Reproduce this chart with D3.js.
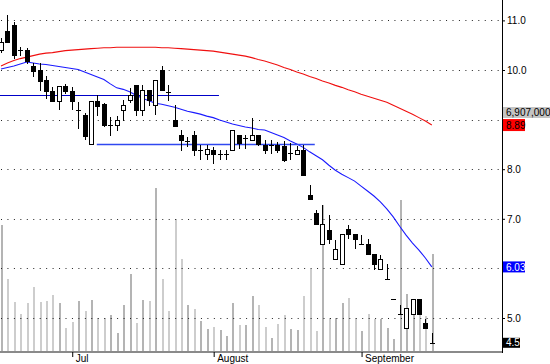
<!DOCTYPE html>
<html>
<head>
<meta charset="utf-8">
<script src="https://cdn.jsdelivr.net/npm/d3@7"></script>
<style>
body { margin: 0; background: #fff; }
svg { display: block; font-family: Arial, "Liberation Sans", sans-serif; }
</style>
</head>
<body>
<svg id="chart" width="550" height="364"></svg>
<script>
// daily prices, one entry per trading day (late June -> mid September)
var opens = [10.40,10.79,10.91,10.40,10.40,10.08,10.00,9.80,9.58,9.38,
  9.68,9.58,9.19,9.09,8.51,9.38,9.31,8.89,8.89,9.19,
  9.40,9.70,9.19,9.60,9.29,10.00,9.56,8.99,8.69,8.57,
  8.69,8.39,8.31,8.39,8.31,8.31,8.39,8.69,8.63,8.59,
  8.69,8.49,8.49,8.49,8.47,8.33,8.31,8.39,7.48,7.12,
  6.49,6.77,6.19,6.09,6.79,6.69,6.49,6.49,6.29,5.99,
  5.79,5.38,5.08,4.80,5.08,5.38,4.90,4.50]
var highs = [10.65,11.11,10.97,10.46,10.44,10.14,10.14,9.88,9.66,9.68,
  9.72,9.66,9.35,9.13,9.38,9.50,9.33,9.05,9.07,9.40,
  9.64,9.70,9.70,9.60,9.80,10.08,9.70,9.29,8.79,8.65,
  8.77,8.49,8.49,8.45,8.39,8.39,8.79,8.69,8.69,9.03,
  8.69,8.59,8.59,8.55,8.57,8.53,8.47,8.49,7.68,7.18,
  7.28,7.08,6.57,6.69,6.88,6.69,6.67,6.59,6.29,6.27,
  6.09,5.38,5.26,5.20,5.38,5.38,4.98,4.70]
var lows = [10.36,10.56,10.24,10.30,10.14,9.88,9.60,9.44,9.38,9.21,
  9.54,9.21,8.83,8.61,8.51,9.09,8.87,8.69,8.79,8.99,
  9.35,9.09,9.09,9.29,9.11,9.60,9.40,8.87,8.39,8.47,
  8.29,8.21,8.21,8.13,8.21,8.21,8.39,8.43,8.43,8.59,
  8.49,8.33,8.33,8.35,8.17,8.21,8.31,7.88,7.40,6.90,
  6.49,6.51,6.19,6.09,6.61,6.41,6.49,6.29,5.99,5.99,
  5.79,5.38,5.08,4.80,5.08,5.08,4.80,4.50]
var closes = [10.56,10.56,10.30,10.39,10.18,9.98,9.78,9.58,9.38,9.68,
  9.58,9.38,9.19,8.67,9.38,9.27,8.89,8.89,8.99,9.29,
  9.50,9.19,9.60,9.40,9.80,9.60,9.54,8.87,8.59,8.57,
  8.39,8.39,8.41,8.31,8.31,8.31,8.79,8.53,8.63,8.69,
  8.51,8.39,8.49,8.39,8.19,8.33,8.39,7.88,7.40,6.90,
  6.90,6.59,6.39,6.69,6.69,6.59,6.49,6.29,6.09,6.19,
  5.79,5.38,5.08,5.20,5.38,5.08,4.80,4.50]

// volume in thousands of shares
var volumes = [8975,5128,3511,2635,3419,4558,3490,3561,3989,3419,
  1638,2066,3561,2849,3632,2350,2350,2564,1282,3276,
  5484,1994,3632,3561,11610,5128,2849,9402,6553,3276,
  2991,2137,1567,1709,1496,1068,3419,1852,1852,3917,
  3276,1709,926,1923,2564,1567,1496,3917,5840,1425,
  10399,2350,2350,3419,3775,2350,1425,2635,2279,2279,
  1638,855,10755,4060,2707,2778,2493,6907]

// moving averages (red = slow, blue = fast)
var maSlow = [10.08,10.14,10.19,10.23,10.26,10.29,10.32,10.34,10.35,10.37,
  10.39,10.40,10.41,10.42,10.43,10.44,10.45,10.45,10.46,10.46,
  10.46,10.46,10.46,10.46,10.46,10.45,10.45,10.44,10.43,10.42,
  10.41,10.40,10.39,10.38,10.36,10.34,10.32,10.30,10.28,10.25,
  10.21,10.18,10.14,10.10,10.05,10.01,9.96,9.92,9.87,9.83,
  9.78,9.74,9.69,9.65,9.60,9.56,9.51,9.47,9.43,9.39,
  9.35,9.29,9.23,9.17,9.11,9.04,8.97,8.89]
var maFast = [10.02,10.05,10.08,10.12,10.16,10.14,10.12,10.11,10.09,10.07,
  10.05,10.03,10.01,9.96,9.91,9.86,9.81,9.72,9.64,9.61,
  9.56,9.49,9.43,9.38,9.33,9.31,9.28,9.25,9.21,9.17,
  9.14,9.11,9.07,9.04,8.99,8.95,8.91,8.88,8.85,8.83,
  8.80,8.79,8.74,8.69,8.64,8.57,8.51,8.44,8.35,8.27,
  8.19,8.08,7.98,7.90,7.83,7.76,7.66,7.56,7.46,7.34,
  7.20,7.04,6.85,6.67,6.51,6.37,6.21,6.03]

// horizontal trend levels: start day, end day, price
var levelFrom = [-1, 14.9]
var levelTo = [33.9, 48.8]
var levelPrice = [9.50, 8.51]

var priceTicks = [5, 6, 7, 8, 9, 10, 11]
var monthTickDays = [11, 33, 56]
var monthLabels = ["Jul", "August", "September"]

const svg = d3.select('#chart')
const plotRight = 502, plotBottom = 351
const last = closes.length - 1

const x = d3.scaleLinear().domain([0, last]).range([1, 431.8])
const y = d3.scaleLinear().domain([5, 11]).range([318, 20.4])
const yVol = d3.scaleLinear().domain([0, 25000]).range([plotBottom, 0])

svg.append('clipPath').attr('id', 'plotClip')
  .append('rect').attr('x', 0).attr('y', 0).attr('width', plotRight).attr('height', plotBottom)

const plot = svg.append('g').attr('clip-path', 'url(#plotClip)')

//volume bars in the background
plot.append('g').selectAll('rect')
  .data(volumes)
  .join('rect')
  .attr('x', (d, i) => Math.round(x(i)))
  .attr('y', d => yVol(d))
  .attr('width', 2)
  .attr('height', d => plotBottom - yVol(d))
  .attr('fill', (d, i) => closes[i] >= opens[i] ? '#b4b4b4' : '#cdcdcd')
  .attr('shape-rendering', 'crispEdges')

//dotted price grid
plot.append('g').selectAll('line')
  .data(priceTicks)
  .join('line')
  .attr('x1', 1).attr('x2', plotRight)
  .attr('y1', d => Math.round(y(d)) + 0.5)
  .attr('y2', d => Math.round(y(d)) + 0.5)
  .attr('stroke', '#222')
  .attr('stroke-dasharray', '1,5.45')

//moving averages
const line = d3.line().x((d, i) => x(i)).y(d => y(d))
plot.append('path').datum(maSlow).attr('d', line)
  .attr('fill', 'none').attr('stroke', '#f01010').attr('stroke-width', 1.1)
plot.append('path').datum(maFast).attr('d', line)
  .attr('fill', 'none').attr('stroke', '#1a1aff').attr('stroke-width', 1.1)

//trend levels
plot.append('g').selectAll('line')
  .data(levelPrice)
  .join('line')
  .attr('x1', (d, i) => x(levelFrom[i]))
  .attr('x2', (d, i) => x(levelTo[i]))
  .attr('y1', d => Math.round(y(d)) + 0.5)
  .attr('y2', d => Math.round(y(d)) + 0.5)
  .attr('stroke', (d, i) => i == 0 ? '#0000c8' : '#3048f0')
  .attr('stroke-width', (d, i) => i == 0 ? 1 : 1.4)

//candles
const candles = plot.append('g').selectAll('g')
  .data(closes)
  .join('g')
  .attr('shape-rendering', 'crispEdges')

candles.append('line')
  .attr('x1', (d, i) => Math.round(x(i)) + 0.5)
  .attr('x2', (d, i) => Math.round(x(i)) + 0.5)
  .attr('y1', (d, i) => Math.round(y(highs[i])))
  .attr('y2', (d, i) => Math.round(y(lows[i])) + 1)
  .attr('stroke', '#000')

candles.each(function (c, i) {
  const g = d3.select(this)
  const cx = Math.round(x(i))
  const top = Math.round(y(Math.max(opens[i], c)))
  const bot = Math.round(y(Math.min(opens[i], c)))
  if (bot - top < 2) {
    g.append('line')
      .attr('x1', cx - 2).attr('x2', cx + 3)
      .attr('y1', top + 0.5).attr('y2', top + 0.5)
      .attr('stroke', '#000')
  } else {
    g.append('rect')
      .attr('x', cx - 1.5).attr('y', top + 0.5)
      .attr('width', 4).attr('height', bot - top)
      .attr('fill', c > opens[i] ? '#fff' : '#000')
      .attr('stroke', '#000')
  }
})

//bottom axis
svg.append('line')
  .attr('x1', 0).attr('x2', plotRight + 1)
  .attr('y1', plotBottom + 1).attr('y2', plotBottom + 1)
  .attr('stroke', '#8a8a8a').attr('stroke-width', 2)

const xAxis = d3.axisBottom(x)
  .tickValues(monthTickDays)
  .tickFormat((d, i) => monthLabels[i])
  .tickSize(5)
  .tickPadding(0)
const gx = svg.append('g').attr('transform', `translate(0.5,${plotBottom + 1})`).call(xAxis)
gx.select('.domain').remove()
gx.selectAll('line').attr('stroke', '#000')
gx.selectAll('text')
  .attr('text-anchor', 'start')
  .attr('dx', 3).attr('y', 0).attr('dy', 9.5)
  .style('font-size', '10px')
  .attr('fill', '#000')

//right price axis
svg.append('line')
  .attr('x1', plotRight + 0.5).attr('x2', plotRight + 0.5)
  .attr('y1', 0).attr('y2', plotBottom + 2)
  .attr('stroke', '#000')

// value flags sit on top of the axis labels they cover
const flagYs = [112.5, y(maSlow[last]), y(maFast[last]), y(closes[last])]
const covered = v => flagYs.some(f => Math.abs(f - y(v)) < 9)

const yAxis = d3.axisRight(y)
  .tickValues(priceTicks)
  .tickFormat(d => covered(d) ? '' : d3.format('.1f')(d))
  .tickSize(2)
  .tickPadding(2)
const gy = svg.append('g').attr('transform', `translate(${plotRight + 1},0)`).call(yAxis)
gy.select('.domain').remove()
gy.selectAll('line').attr('stroke', '#000')
gy.selectAll('text').style('font-size', '10px').attr('fill', '#000')

function flag(yc, h, w, fill, txt, color) {
  svg.append('rect')
    .attr('x', plotRight + 1).attr('y', yc - h / 2)
    .attr('width', w).attr('height', h)
    .attr('fill', fill)
  svg.append('text')
    .attr('x', plotRight + 4).attr('y', yc)
    .attr('dy', '0.36em')
    .style('font-size', '10px')
    .attr('fill', color)
    .text(txt)
}
flag(flagYs[0], 11, 50, '#c4c4c4', d3.format(',')(volumes[last] * 1000), '#000')
flag(flagYs[1], 12, 22, '#ff0000', maSlow[last].toFixed(2), '#000')
flag(flagYs[2], 11, 22, '#0000ff', maFast[last].toFixed(2), '#fff')
flag(flagYs[3], 10, 17, '#000', closes[last].toFixed(1), '#fff')
</script>
</body>
</html>
